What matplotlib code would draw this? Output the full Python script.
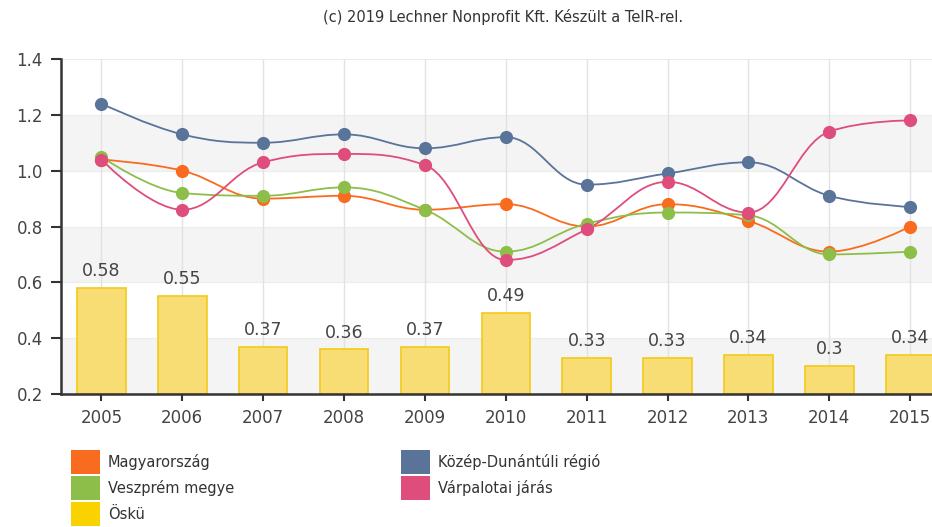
import matplotlib.pyplot as plt
import numpy as np
from matplotlib.path import Path
from matplotlib.patches import PathPatch, Rectangle

plt.rcParams['font.family'] = ['DejaVu Sans']

years = [2005, 2006, 2007, 2008, 2009, 2010, 2011, 2012, 2013, 2014, 2015]
magyarorszag = [1.04, 1.00, 0.90, 0.91, 0.86, 0.88, 0.80, 0.88, 0.82, 0.71, 0.80]
veszprem = [1.05, 0.92, 0.91, 0.94, 0.86, 0.71, 0.81, 0.85, 0.84, 0.70, 0.71]
kozep_dunantul = [1.24, 1.13, 1.10, 1.13, 1.08, 1.12, 0.95, 0.99, 1.03, 0.91, 0.87]
varpalota = [1.04, 0.86, 1.03, 1.06, 1.02, 0.68, 0.79, 0.96, 0.85, 1.14, 1.18]
osku = [0.58, 0.55, 0.37, 0.36, 0.37, 0.49, 0.33, 0.33, 0.34, 0.30, 0.34]

series = [
    ("Magyarország", magyarorszag, "#F96B1E"),
    ("Veszprém megye", veszprem, "#8DBE4A"),
    ("Közép-Dunántúli régió", kozep_dunantul, "#5A7399"),
    ("Várpalotai járás", varpalota, "#DE4D7B"),
]
bar_name = "Öskü"
bar_fill = "#F8DC74"
bar_edge = "#F3CA1A"


def spline_path(xs, ys, smoothing=1.5):
    # Highcharts-style spline: cubic bezier through every data point
    denom = smoothing + 1
    n = len(xs)
    left = [None] * n
    right = [None] * n
    for i in range(1, n - 1):
        x, y = xs[i], ys[i]
        px, py = xs[i - 1], ys[i - 1]
        nx, ny = xs[i + 1], ys[i + 1]
        lcx = (smoothing * x + px) / denom
        lcy = (smoothing * y + py) / denom
        rcx = (smoothing * x + nx) / denom
        rcy = (smoothing * y + ny) / denom
        if rcx != lcx:
            corr = (rcy - lcy) * (rcx - x) / (rcx - lcx) + y - rcy
            lcy += corr
            rcy += corr
        if lcy > max(py, y):
            lcy = max(py, y)
            rcy = 2 * y - lcy
        elif lcy < min(py, y):
            lcy = min(py, y)
            rcy = 2 * y - lcy
        if rcy > max(y, ny):
            rcy = max(y, ny)
            lcy = 2 * y - rcy
        elif rcy < min(y, ny):
            rcy = min(y, ny)
            lcy = 2 * y - rcy
        left[i] = (lcx, lcy)
        right[i] = (rcx, rcy)
    verts = [(xs[0], ys[0])]
    codes = [Path.MOVETO]
    for i in range(1, n):
        c1 = right[i - 1] or (xs[i - 1], ys[i - 1])
        c2 = left[i] or (xs[i], ys[i])
        verts += [c1, c2, (xs[i], ys[i])]
        codes += [Path.CURVE4] * 3
    return Path(verts, codes)


fig = plt.figure(figsize=(9.32, 5.27), dpi=100)
ax = fig.add_axes([61 / 932, 1 - 394 / 527, 1 - 61 / 932, (394 - 59) / 527])

# alternating bands
for lo in [0.2, 0.6, 1.0]:
    ax.axhspan(lo, lo + 0.2, color="#F4F4F4", zorder=0, lw=0)
for yv in [0.4, 0.6, 0.8, 1.0, 1.2, 1.4]:
    ax.axhline(yv, color="#ECECEC", lw=0.8, zorder=0.5)
for yr in years:
    ax.axvline(yr, color="#E2E2E2", lw=1.0, zorder=0.6)

ax.bar(years, np.array(osku) - 0.2, bottom=0.2, width=0.6, color=bar_fill,
       edgecolor=bar_edge, linewidth=1.2, zorder=2)
for yr, v in zip(years, osku):
    ax.text(yr, v + 0.028, f"{v:g}", ha="center", va="bottom",
            fontsize=12.5, color="#444444", zorder=3)

for name, vals, col in series:
    ax.add_patch(PathPatch(spline_path(years, vals), facecolor="none",
                           edgecolor=col, lw=1.3, zorder=3))
    ax.plot(years, vals, "o", color=col, markersize=9.5, zorder=4,
            markeredgewidth=0)

ax.set_xlim(2004.5, 2015.27)
ax.set_ylim(0.2, 1.4)
ax.set_yticks([0.2, 0.4, 0.6, 0.8, 1.0, 1.2, 1.4])
ax.set_yticklabels(["0.2", "0.4", "0.6", "0.8", "1.0", "1.2", "1.4"])
ax.set_xticks(years)
ax.set_xticklabels([str(y) for y in years])
ax.tick_params(axis="both", colors="#333333", labelcolor="#444444",
               labelsize=12, width=1.5, direction="out")
ax.tick_params(axis="x", pad=6, length=5)
ax.tick_params(axis="y", pad=6, length=7)
for s in ["top", "right"]:
    ax.spines[s].set_visible(False)
for s in ["left", "bottom"]:
    ax.spines[s].set_color("#333333")
    ax.spines[s].set_linewidth(1.8)
ax.set_facecolor("white")

fig.text(503 / 932, 1 - 17 / 527, "(c) 2019 Lechner Nonprofit Kft. Készült a TeIR-rel.",
         ha="center", va="center", fontsize=10.5, color="#333333")

# legend
legend_items = [
    ("Magyarország", "#F96B1E", 71, 462),
    ("Veszprém megye", "#8DBE4A", 71, 488),
    (bar_name, "#F9D200", 71, 514),
    ("Közép-Dunántúli régió", "#5A7399", 401, 462),
    ("Várpalotai járás", "#DE4D7B", 401, 488),
]
W, H = 932, 527
for label, col, px, py in legend_items:
    fig.add_artist(Rectangle((px / W, 1 - (py + 12) / H), 29 / W, 24 / H,
                             transform=fig.transFigure, facecolor=col,
                             edgecolor="none"))
    fig.text((px + 37) / W, 1 - py / H, label, ha="left", va="center",
             fontsize=10.5, color="#333333")

fig.savefig("out.png", dpi=100)
